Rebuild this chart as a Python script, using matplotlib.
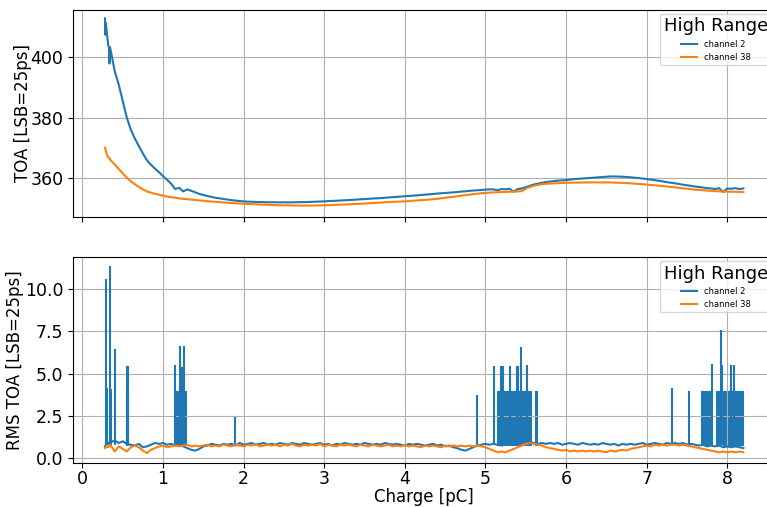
import numpy as np
import matplotlib.pyplot as plt

plt.rcParams['font.family'] = ['DejaVu Sans']

# common charge grid (pC), 0.35 .. 8.20
charge = np.round(np.arange(0.35, 8.2001, 0.05), 2)

# first few points below 0.35 pC
head_q_ch2 = [0.28, 0.285, 0.29, 0.30, 0.31, 0.32, 0.33, 0.335, 0.34]
toa_head_ch2 = [413.0, 407.5, 411.5, 409.0, 406.5, 404.0, 403.5, 398.0, 403.5]
head_q_ch38 = [0.28, 0.29, 0.30, 0.32, 0.34]
toa_head_ch38 = [370.0, 369.0, 367.8, 366.8, 366.3]

toa_ch2 = [
    402.5, 395.5, 391.0, 385.5, 380.0, 376.0, 373.0, 370.5, 368.0, 365.8,
    364.3, 363.0, 361.8, 360.5, 359.3, 358.0, 356.2, 356.6, 355.4, 356.1,
    355.6, 355.1, 354.6, 354.2, 353.9, 353.6, 353.3, 353.1, 352.9, 352.7,
    352.5, 352.35, 352.2, 352.1, 352.0, 352.0, 351.9, 351.9, 351.85, 351.8,
    351.8, 351.8, 351.75, 351.8, 351.75, 351.8, 351.8, 351.85, 351.85, 351.9,
    351.95, 352.0, 352.05, 352.1, 352.2, 352.25, 352.3, 352.4, 352.45, 352.55,
    352.6, 352.7, 352.8, 352.85, 352.95, 353.05, 353.1, 353.2, 353.3, 353.4,
    353.5, 353.6, 353.7, 353.8, 353.9, 354.0, 354.1, 354.2, 354.35, 354.45,
    354.55, 354.7, 354.8, 354.9, 355.0, 355.1, 355.2, 355.35, 355.45, 355.6,
    355.7, 355.8, 355.9, 356.0, 356.1, 356.1, 355.8, 356.2, 356.1, 356.3,
    355.3, 356.2, 356.4, 356.8, 357.3, 357.7, 358.0, 358.3, 358.5, 358.7,
    358.85, 359.0, 359.1, 359.2, 359.35, 359.5, 359.6, 359.7, 359.8, 359.9,
    360.0, 360.1, 360.2, 360.3, 360.4, 360.4, 360.35, 360.3, 360.2, 360.1,
    360.0, 359.85, 359.7, 359.55, 359.35, 359.15, 358.95, 358.75, 358.5, 358.3,
    358.1, 357.9, 357.65, 357.45, 357.25, 357.05, 356.9, 356.7, 356.5, 356.4,
    356.2, 356.5, 355.2, 356.4, 356.3, 356.5, 356.2, 356.4,
]

toa_ch38 = [
    365.8, 364.4, 362.9, 361.4, 360.0, 358.8, 357.8, 356.9, 356.1, 355.4,
    355.0, 354.6, 354.3, 354.0, 353.7, 353.5, 353.3, 353.1, 352.95, 352.8,
    352.7, 352.55, 352.4, 352.3, 352.15, 352.05, 351.95, 351.85, 351.75, 351.65,
    351.55, 351.45, 351.4, 351.3, 351.25, 351.2, 351.1, 351.05, 351.0, 350.95,
    350.9, 350.85, 350.8, 350.8, 350.75, 350.75, 350.7, 350.7, 350.7, 350.7,
    350.7, 350.75, 350.75, 350.8, 350.85, 350.9, 350.95, 351.0, 351.05, 351.1,
    351.2, 351.25, 351.3, 351.4, 351.45, 351.55, 351.6, 351.7, 351.8, 351.85,
    351.95, 352.0, 352.05, 352.1, 352.2, 352.3, 352.4, 352.5, 352.6, 352.7,
    352.8, 352.95, 353.1, 353.3, 353.45, 353.6, 353.8, 354.0, 354.15, 354.35,
    354.5, 354.65, 354.8, 354.9, 355.0, 355.1, 355.15, 355.2, 355.25, 355.3,
    355.35, 355.4, 355.5, 356.3, 356.9, 357.3, 357.6, 357.8, 357.95, 358.05,
    358.1, 358.15, 358.2, 358.3, 358.3, 358.35, 358.35, 358.4, 358.4, 358.4,
    358.4, 358.4, 358.4, 358.4, 358.4, 358.35, 358.3, 358.25, 358.2, 358.1,
    358.0, 357.9, 357.8, 357.7, 357.55, 357.45, 357.3, 357.2, 357.05, 356.9,
    356.75, 356.6, 356.45, 356.3, 356.2, 356.0, 355.9, 355.8, 355.7, 355.6,
    355.5, 355.45, 355.4, 355.35, 355.3, 355.3, 355.25, 355.2,
]

rms_head_ch2 = [0.7, 0.9, 0.85, 1.0]
rms_head_ch38 = [0.6, 0.7, 0.65, 0.8]
rms_head_q = [0.28, 0.30, 0.32, 0.34]

rms_ch2 = [
    0.95, 1.05, 0.9, 1.0, 0.85, 0.8, 0.75, 0.85, 0.65, 0.7,
    0.8, 0.9, 0.85, 0.9, 0.8, 0.85, 0.75, 0.8, 0.7, 0.6,
    0.5, 0.45, 0.55, 0.7, 0.75, 0.85, 0.8, 0.75, 0.85, 0.8,
    0.85, 0.75, 0.9, 0.8, 0.85, 0.9, 0.8, 0.85, 0.9, 0.8,
    0.85, 0.8, 0.9, 0.85, 0.8, 0.9, 0.85, 0.8, 0.9, 0.85,
    0.8, 0.85, 0.9, 0.8, 0.85, 0.75, 0.85, 0.8, 0.9, 0.85,
    0.8, 0.85, 0.8, 0.9, 0.85, 0.8, 0.85, 0.8, 0.9, 0.85,
    0.8, 0.85, 0.8, 0.75, 0.85, 0.8, 0.85, 0.8, 0.75, 0.8,
    0.85, 0.75, 0.8, 0.7, 0.75, 0.65, 0.6, 0.5, 0.45, 0.55,
    0.65, 0.75, 0.8, 0.85, 0.8, 0.85, 0.8, 0.75, 0.85, 0.8,
    0.85, 0.8, 0.9, 0.85, 0.95, 0.9, 0.85, 0.9, 0.85, 0.9,
    0.85, 0.9, 0.8, 0.85, 0.9, 0.85, 0.8, 0.9, 0.85, 0.8,
    0.85, 0.8, 0.9, 0.85, 0.8, 0.85, 0.75, 0.85, 0.8, 0.85,
    0.8, 0.85, 0.9, 0.8, 0.85, 0.9, 0.85, 0.8, 0.9, 0.85,
    0.9, 0.85, 0.9, 0.8, 0.85, 0.8, 0.75, 0.8, 0.7, 0.75,
    0.7, 0.75, 0.65, 0.7, 0.65, 0.7, 0.65, 0.6,
]

rms_ch38 = [
    0.75, 0.4, 0.7, 0.55, 0.4, 0.65, 0.75, 0.65, 0.45, 0.3,
    0.5, 0.6, 0.7, 0.75, 0.65, 0.7, 0.75, 0.7, 0.75, 0.8,
    0.7, 0.75, 0.7, 0.75, 0.8, 0.7, 0.75, 0.7, 0.8, 0.75,
    0.7, 0.8, 0.75, 0.7, 0.8, 0.75, 0.85, 0.7, 0.75, 0.8,
    0.75, 0.8, 0.7, 0.8, 0.75, 0.85, 0.75, 0.7, 0.8, 0.75,
    0.8, 0.75, 0.85, 0.7, 0.8, 0.75, 0.7, 0.8, 0.75, 0.8,
    0.75, 0.7, 0.8, 0.75, 0.7, 0.8, 0.75, 0.7, 0.75, 0.8,
    0.7, 0.75, 0.7, 0.8, 0.7, 0.75, 0.7, 0.65, 0.75, 0.7,
    0.75, 0.7, 0.65, 0.75, 0.7, 0.75, 0.7, 0.75, 0.7, 0.75,
    0.7, 0.75, 0.7, 0.65, 0.55, 0.45, 0.35, 0.4, 0.35, 0.45,
    0.55, 0.65, 0.75, 0.85, 0.9, 0.85, 0.8, 0.75, 0.65, 0.6,
    0.55, 0.5, 0.45, 0.5, 0.4, 0.45, 0.4, 0.45, 0.4, 0.45,
    0.4, 0.45, 0.4, 0.35, 0.45, 0.4, 0.45, 0.5, 0.45, 0.55,
    0.6, 0.65, 0.7, 0.75, 0.7, 0.8, 0.75, 0.8, 0.75, 0.8,
    0.8, 0.75, 0.8, 0.75, 0.7, 0.65, 0.6, 0.55, 0.5, 0.45,
    0.4, 0.35, 0.4, 0.35, 0.4, 0.35, 0.4, 0.35,
]

# isolated spikes of channel 2 RMS
spike_q = [0.29, 0.30, 0.34, 0.35, 0.40, 0.55, 0.56, 1.15, 1.21, 1.24, 1.26,
           1.89, 4.90, 5.10, 5.19, 5.22, 5.30, 5.39, 5.41, 5.44, 5.52,
           7.32, 7.53, 7.81, 7.92, 7.94, 8.05, 8.09]
spike_top = [10.6, 4.15, 11.4, 4.1, 6.49, 5.44, 5.44, 5.54, 6.63, 5.4, 6.63,
             2.42, 3.75, 5.44, 5.44, 5.44, 5.46, 5.44, 5.44, 6.59, 5.5,
             4.15, 4.0, 5.58, 7.58, 5.5, 5.5, 5.5]

# dense bursts where channel 2 RMS keeps jumping to ~4
burst_start = [0.545, 1.15, 5.14, 5.255, 5.38, 5.44, 5.61, 7.68, 7.735, 7.86, 7.945]
burst_end = [0.565, 1.29, 5.24, 5.365, 5.42, 5.57, 5.64, 7.72, 7.79, 7.92, 8.20]
burst_top = [3.95, 3.97, 3.95, 3.95, 3.95, 3.95, 3.95, 4.0, 4.0, 4.0, 4.0]

fig = plt.figure(figsize=(7.67, 5.07), dpi=100)
ax1 = fig.add_axes([0.0953, 0.5726, 0.9155, 0.4077])
ax2 = fig.add_axes([0.0953, 0.0862, 0.9155, 0.4063], sharex=ax1)

ax1.plot(np.concatenate([head_q_ch2, charge]), np.concatenate([toa_head_ch2, toa_ch2]),
         color='C0', lw=1.5, label='channel 2')
ax1.plot(np.concatenate([head_q_ch38, charge]), np.concatenate([toa_head_ch38, toa_ch38]),
         color='C1', lw=1.5, label='channel 38')

ax2.plot(np.concatenate([rms_head_q, charge]), np.concatenate([rms_head_ch2, rms_ch2]),
         color='C0', lw=1.5, label='channel 2')
ax2.vlines(spike_q, 0.8, spike_top, color='C0', lw=1.5)
for s, e, t in zip(burst_start, burst_end, burst_top):
    ax2.fill_between([s, e], 0.8, t, color='C0', lw=0.8, edgecolor='C0')
ax2.plot(np.concatenate([rms_head_q, charge]), np.concatenate([rms_head_ch38, rms_ch38]),
         color='C1', lw=1.5, label='channel 38')

ax1.set_xlim(-0.116, 8.596)
ax1.set_ylim(347.0, 415.8)
ax2.set_ylim(-0.30, 11.89)
ax1.set_yticks([360, 380, 400])
ax2.set_yticks([0.0, 2.5, 5.0, 7.5, 10.0])
ax2.set_xticks(range(9))
ax1.tick_params(labelbottom=False, labelsize=12.5)
ax2.tick_params(labelsize=12.5)
ax2.tick_params(axis='x', pad=1.5)

ax1.set_ylabel('TOA [LSB=25ps]', fontsize=12, labelpad=-1)
ax2.set_ylabel('RMS TOA [LSB=25ps]', fontsize=12, labelpad=0.5)
ax2.set_xlabel('Charge [pC]', fontsize=12, labelpad=0)

for ax in (ax1, ax2):
    ax.grid(True)
    ax.legend(loc='upper right', title='High Range', title_fontsize=13, fontsize=6)

fig.savefig('out.png', dpi=100)
